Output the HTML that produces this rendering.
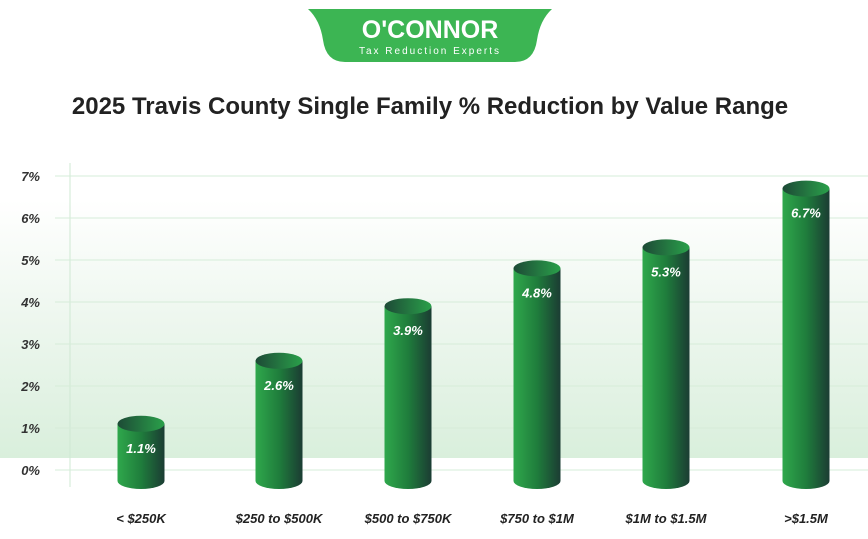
<!DOCTYPE html>
<html><head><meta charset="utf-8"><style>
body{margin:0;width:868px;height:534px;overflow:hidden;background:#fff;font-family:"Liberation Sans",sans-serif}
</style></head><body>
<svg width="868" height="534" id="svg">
<defs>
<linearGradient id="bg" x1="0" y1="0" x2="0" y2="1"><stop offset="0" stop-color="#fff"/><stop offset="0.45" stop-color="#eef7ef"/><stop offset="1" stop-color="#d9efdc"/></linearGradient>
<linearGradient id="cyl" x1="0" y1="0" x2="1" y2="0"><stop offset="0" stop-color="#2fa84c"/><stop offset="0.5" stop-color="#1f7d3c"/><stop offset="1" stop-color="#1b3c33"/></linearGradient>
<linearGradient id="top" x1="0" y1="0" x2="1" y2="0"><stop offset="0" stop-color="#1d4a36"/><stop offset="1" stop-color="#2aa04a"/></linearGradient>
</defs>
<rect x="0" y="200" width="868" height="258" fill="url(#bg)"/>
<g>
<path d="M308 9 L552 9 Q540 20 537 40 Q534 62 515 62 L345 62 Q326 62 323 40 Q320 20 308 9Z" fill="#3cb553"/>
<text x="430" y="38" text-anchor="middle" font-size="25" font-weight="bold" fill="#fff">O'CONNOR</text>
<text x="430" y="54" text-anchor="middle" font-size="10" fill="#fff" letter-spacing="2">Tax Reduction Experts</text>
</g>
<text x="430" y="114" text-anchor="middle" font-size="24" font-weight="bold" fill="#222">2025 Travis County Single Family % Reduction by Value Range</text>
<line x1="70" y1="163" x2="70" y2="487" stroke="#cfe8d3"/>
<g id="grid"></g><g id="bars"></g>
</svg>
<script>
const categories=["< $250K","$250 to $500K","$500 to $750K","$750 to $1M","$1M to $1.5M",">$1.5M"];
const values=[1.1,2.6,3.9,4.8,5.3,6.7];
const labels=["1.1%","2.6%","3.9%","4.8%","5.3%","6.7%"];
const yTicks=[0,1,2,3,4,5,6,7];
const ns="http://www.w3.org/2000/svg";
const y=v=>470-v*42;
const x=i=>[141,279,408,537,666,806][i];
function mk(t,a,p){const e=document.createElementNS(ns,t);for(const k in a)e.setAttribute(k,a[k]);p.appendChild(e);return e;}
const g=document.getElementById('grid'),b=document.getElementById('bars');
yTicks.forEach(t=>{
 const l=mk('line',{x1:55,x2:868,y1:y(t),y2:y(t),stroke:'#d6ecd9'},g);
 
 
 const tx=mk('text',{x:40,y:y(t)+5,'text-anchor':'end','font-size':13,'font-weight':'bold','font-style':'italic',fill:'#333'},g);
 tx.textContent=t+'%';
 
 
});
values.forEach((v,i)=>{
 const cx=x(i),w=47,ry=8,top=y(v),bot=481;
 const grp=mk('g',{},b);
 
 
 mk('path',{d:`M${cx-w/2} ${top} L${cx-w/2} ${bot} A${w/2} ${ry} 0 0 0 ${cx+w/2} ${bot} L${cx+w/2} ${top}Z`,fill:'url(#cyl)'},grp);
 mk('ellipse',{cx:cx,cy:top,rx:w/2,ry:ry,fill:'url(#top)'},grp);
 const t=mk('text',{x:cx,y:top+29,'text-anchor':'middle','font-size':13,'font-weight':'bold','font-style':'italic',fill:'#fff'},grp);
 t.textContent=labels[i];
 
 
 const c=mk('text',{x:cx,y:523,'text-anchor':'middle','font-size':13,'font-weight':'bold','font-style':'italic',fill:'#222'},b);
 c.textContent=categories[i];
 
 
});
</script>
</body></html>
